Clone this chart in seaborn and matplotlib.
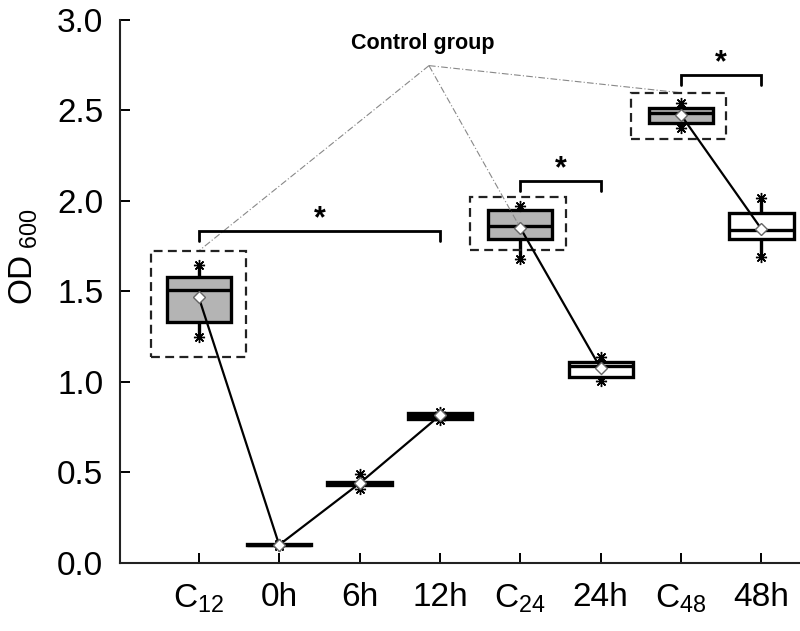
import numpy as np
import pandas as pd
import matplotlib
matplotlib.use("Agg")
import matplotlib.pyplot as plt
import seaborn as sns
from matplotlib.patches import Rectangle

# ---------------- data ----------------
categories = ["C12", "0h", "6h", "12h", "C24", "24h", "C48", "48h"]
tick_labels = [r"C$_{12}$", "0h", "6h", "12h", r"C$_{24}$", "24h", r"C$_{48}$", "48h"]
is_control = [True, False, False, False, True, False, True, False]
mins    = [1.250, 0.095, 0.410, 0.790, 1.680, 1.006, 2.405, 1.689]
q1s     = [1.330, 0.097, 0.430, 0.795, 1.788, 1.026, 2.433, 1.788]
medians = [1.508, 0.100, 0.440, 0.812, 1.864, 1.090, 2.488, 1.840]
q3s     = [1.578, 0.103, 0.450, 0.826, 1.950, 1.112, 2.512, 1.932]
maxs    = [1.646, 0.105, 0.490, 0.835, 1.972, 1.140, 2.540, 2.015]
means   = [1.468, 0.100, 0.440, 0.815, 1.852, 1.076, 2.475, 1.845]
# connected mean series
segments = [["C12", "0h", "6h", "12h"], ["C24", "24h"], ["C48", "48h"]]
# significance comparisons
comparisons = [("C12", "12h"), ("C24", "24h"), ("C48", "48h")]
y_ticks = [0.0, 0.5, 1.0, 1.5, 2.0, 2.5, 3.0]

# ---------------- style ----------------
sns.set_style("ticks")
plt.rcParams["font.family"] = ["Liberation Sans", "DejaVu Sans"]
plt.rcParams["mathtext.fontset"] = "custom"
plt.rcParams["mathtext.rm"] = "Liberation Sans"
plt.rcParams["mathtext.it"] = "Liberation Sans:italic"
plt.rcParams["mathtext.bf"] = "Liberation Sans:bold"
plt.rcParams["mathtext.default"] = "regular"
for k in ("text.color", "axes.labelcolor", "xtick.color", "ytick.color", "axes.edgecolor"):
    plt.rcParams[k] = "black"

fig = plt.figure(figsize=(8.0, 6.31), dpi=100)
ax = fig.add_axes([0.15, 0.1078, 0.85, 0.8605])

# long-form table: five summary values per group reproduce the box exactly
rows = []
for c, a, b, m, d, e in zip(categories, mins, q1s, medians, q3s, maxs):
    for v in (a, b, m, d, e):
        rows.append({"group": c, "OD": v})
df = pd.DataFrame(rows)
palette = {c: ("#b4b4b4" if ctl else "white") for c, ctl in zip(categories, is_control)}

sns.boxplot(data=df, x="group", y="OD", order=categories, hue="group",
            palette=palette, legend=False, dodge=False, width=0.8,
            whis=(0, 100), linecolor="black", linewidth=2.4, fliersize=0,
            showcaps=False, ax=ax)

pos = {c: i for i, c in enumerate(categories)}
mean_of = dict(zip(categories, means))

# connecting lines between means
for seg in segments:
    ax.plot([pos[c] for c in seg], [mean_of[c] for c in seg],
            color="black", lw=1.6, zorder=4)

# min / max asterisk markers
xs = [pos[c] for c in categories]
ax.plot(xs, mins, ls="none", marker=(8, 2, 0), ms=8, mew=1.0, color="black", zorder=5)
ax.plot(xs, maxs, ls="none", marker=(8, 2, 0), ms=8, mew=1.0, color="black", zorder=5)

# mean diamonds
ax.plot(xs, means, ls="none", marker="D", ms=6, mfc="white", mec="#666666",
        mew=1.0, zorder=6)

# dashed boxes around the control groups
ctl_names = [c for c, ctl in zip(categories, is_control) if ctl]
frames = {"C12": (-0.60, 1.14, 1.185, 0.584),
          "C24": (3.38, 1.729, 1.19, 0.295),
          "C48": (5.38, 2.341, 1.18, 0.257)}
for c in ctl_names:
    x0, y0, w, h = frames[c]
    ax.add_patch(Rectangle((x0, y0), w, h, fill=False, ec="#222222", lw=1.6,
                           ls=(0, (4, 2.4)), zorder=3))

# "Control group" label with thin dash-dot leaders
apex = (2.864, 2.748)
targets = [(0.0, 1.724), (4.0, 1.852), (6.0, 2.598)]
for tx, ty in targets:
    ax.plot([apex[0], tx], [apex[1], ty], color="#888888", lw=0.8,
            ls=(0, (6, 2, 1, 2)), zorder=2)
ax.text(2.79, 2.84, "Control group", ha="center", va="baseline",
        fontsize=15.5, fontweight="bold")

# significance brackets
bracket_y = [1.836, 2.112, 2.696]
leg = 0.055
for (a, b), by in zip(comparisons, bracket_y):
    xa, xb = pos[a], pos[b]
    ax.plot([xa, xa, xb, xb], [by - leg, by, by, by - leg], color="black",
            lw=2.0, zorder=4, solid_joinstyle="miter")
    ax.text((xa + xb) / 2, by + 0.02, "*", ha="center", va="baseline",
            fontsize=22, fontweight="bold")

# axes formatting
ax.set_xlim(-0.98, 7.48)
ax.set_ylim(0, 3.0)
ax.set_yticks(y_ticks)
ax.set_yticklabels([f"{v:.1f}" for v in y_ticks])
ax.set_xticks(range(len(categories)))
ax.set_xticklabels(tick_labels)
ax.set_xlabel("")
ax.set_ylabel(r"OD$_{\ 600}$", fontsize=24)
ax.yaxis.set_label_coords(-0.118, 0.565)
ax.tick_params(axis="both", direction="in", length=7, width=1.4,
               labelsize=24, color="black")
ax.tick_params(axis="y", pad=12)
ax.tick_params(axis="x", pad=14)
for s in ("top", "right"):
    ax.spines[s].set_visible(False)
for s in ("left", "bottom"):
    ax.spines[s].set_linewidth(1.5)
    ax.spines[s].set_color("#222222")

fig.savefig("out.png", dpi=100)
